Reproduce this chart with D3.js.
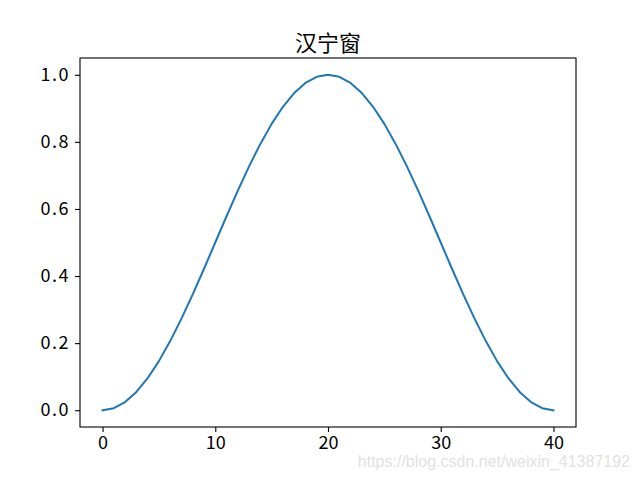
<!DOCTYPE html>
<html><head><meta charset="utf-8">
<script src="https://cdn.jsdelivr.net/npm/d3@7"></script>
<style>
body{margin:0;background:#fff;}
svg{display:block;}
</style></head>
<body><svg id="c" width="640" height="480"></svg>
<script>
const title = "汉宁窗";
const xValues = d3.range(0, 41);
const yValues = [0, 0.0062, 0.0245, 0.0545, 0.0955, 0.1464, 0.2061, 0.2730, 0.3455, 0.4218,
  0.5, 0.5782, 0.6545, 0.7270, 0.7939, 0.8536, 0.9045, 0.9455, 0.9755, 0.9938,
  1.0, 0.9938, 0.9755, 0.9455, 0.9045, 0.8536, 0.7939, 0.7270, 0.6545, 0.5782,
  0.5, 0.4218, 0.3455, 0.2730, 0.2061, 0.1464, 0.0955, 0.0545, 0.0245, 0.0062, 0];
const xTicks = [0, 10, 20, 30, 40];
const yTicks = [0.0, 0.2, 0.4, 0.6, 0.8, 1.0];
const watermark = "https://blog.csdn.net/weixin_41387192";

const svg = d3.select("#c");
const L = 80, R = 576, T = 58, B = 427;
const x = d3.scaleLinear().domain([-2, 42]).range([L, R]);
const y = d3.scaleLinear().domain([-0.05, 1.05]).range([B, T]);

const line = d3.line().x((d, i) => x(xValues[i])).y(d => y(d));
svg.append("path").datum(yValues).attr("d", line)
  .attr("fill", "none").attr("stroke", "#1f77b4").attr("stroke-width", 2)
  .attr("stroke-linejoin", "round").attr("stroke-linecap", "square");

const xa = svg.append("g").attr("transform", `translate(0,${B})`)
  .call(d3.axisBottom(x).tickValues(xTicks).tickSize(5).tickPadding(4).tickFormat(d3.format("d")));
const ya = svg.append("g").attr("transform", `translate(${L},0)`)
  .call(d3.axisLeft(y).tickValues(yTicks).tickSize(5).tickPadding(5).tickFormat(d3.format(".1f")));
[xa, ya].forEach(a => {
  a.select(".domain").remove();
  a.selectAll("line").attr("stroke", "#000").attr("stroke-width", 1.1);
  a.attr("font-family", '"Noto Sans CJK SC", sans-serif').attr("font-size", 18);
  a.selectAll("text").attr("fill", "#000");
});
ya.selectAll("text").attr("letter-spacing", "1.5px");

svg.append("rect").attr("x", L).attr("y", T).attr("width", R - L).attr("height", B - T)
  .attr("fill", "none").attr("stroke", "#000").attr("stroke-width", 1.1);

svg.append("text").attr("x", (L + R) / 2).attr("y", 51).attr("text-anchor", "middle")
  .attr("font-family", '"Noto Sans CJK SC", sans-serif').attr("font-size", 22).text(title);

svg.append("text").attr("x", 630).attr("y", 467).attr("text-anchor", "end")
  .attr("font-family", '"Liberation Sans", Arial, sans-serif').attr("font-size", 16)
  .attr("fill", "#e2e2e2").text(watermark);
</script></body></html>
